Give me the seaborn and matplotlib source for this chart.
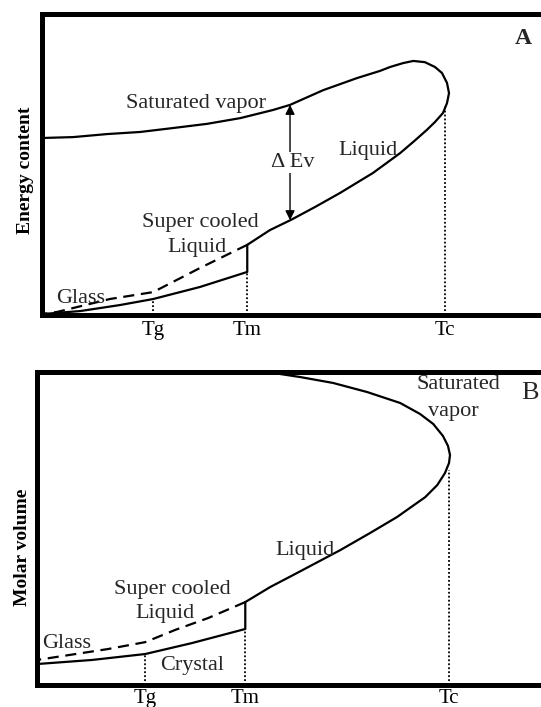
import matplotlib
matplotlib.use("Agg")
import matplotlib.pyplot as plt
import pandas as pd
import seaborn as sns

# ---------------- Panel A: energy content vs temperature (arbitrary units) ----
tick_labels = ["Tg", "Tm", "Tc"]
temps_a = [22.1, 40.8, 80.1]

# saturated vapor branch joined to the liquid branch through the critical point
coex_a_t = [0.0, 6.2, 12.9, 19.5, 26.0, 32.8, 39.4, 45.9, 49.3, 55.9, 62.6,
            67.2, 69.2, 71.8, 73.8, 76.1, 78.1, 79.5, 80.5, 80.9, 80.5, 79.7,
            78.1, 76.5, 74.0, 71.2, 65.8, 59.2, 54.3, 49.5, 45.3, 40.8]
coex_a_e = [58.8, 59.1, 60.1, 60.8, 62.1, 63.5, 65.4, 68.1, 69.8, 74.7, 78.7,
            81.1, 82.4, 83.7, 84.4, 84.0, 82.4, 80.4, 77.1, 73.7, 70.4, 67.1,
            64.1, 61.5, 57.8, 53.8, 47.2, 40.5, 35.9, 31.6, 28.2, 23.3]
crystal_a_t = [0.0, 7.6, 15.5, 22.1, 31.4, 40.8, 40.8]
crystal_a_e = [0.3, 1.3, 3.3, 5.3, 9.3, 14.3, 23.3]
glass_a_t = [40.8, 31.4, 22.1, 13.5, 3.0, 0.0]
glass_a_e = [23.3, 15.6, 7.6, 5.3, 1.0, 0.3]
drop_a_e = [5.3, 14.3, 69.4]          # where the dotted guides meet the curves
dEv_t, dEv_top, dEv_bottom = 49.3, 69.8, 31.5

# ---------------- Panel B: molar volume vs temperature ------------------------
temps_b = [21.3, 41.0, 81.1]
coex_b_t = [44.9, 46.5, 51.8, 58.3, 65.0, 71.5, 75.4, 78.0, 79.9, 80.9, 81.3,
            81.1, 80.3, 78.8, 76.4, 73.6, 70.9, 65.6, 59.7, 51.2, 45.9, 41.0]
coex_b_v = [100.0, 99.7, 98.4, 96.5, 93.6, 90.1, 86.6, 83.4, 79.6, 76.4, 73.5,
            70.9, 67.7, 63.9, 60.0, 56.8, 53.7, 48.6, 43.1, 35.8, 31.3, 26.5]
crystal_b_t = [0.0, 10.8, 21.3, 30.5, 41.0, 41.0]
crystal_b_v = [6.7, 8.0, 9.9, 13.4, 17.9, 26.5]
glass_b_t = [41.0, 33.7, 27.2, 21.3, 14.0, 0.0]
glass_b_v = [26.5, 21.4, 17.6, 13.7, 11.5, 8.0]
drop_b_v = [9.9, 17.9, 68.7]

sns.set_theme(style="white")
plt.rcParams["font.family"] = ["Liberation Serif", "DejaVu Serif"]

fig = plt.figure(figsize=(5.41, 7.07), dpi=100)
ax_a = fig.add_axes([0.0776, 0.5545, 0.93, 0.4257])
ax_b = fig.add_axes([0.0684, 0.0311, 0.939, 0.4427])

LW = 1.6
FS = 16


def curve(ax, t, y, **kw):
    df = pd.DataFrame({"t": t, "y": y})
    sns.lineplot(data=df, x="t", y="y", sort=False, estimator=None,
                 color="black", lw=LW, ax=ax, **kw)


def frame(ax, temps, drops, ylabel, lab_xy, pad):
    ax.set_xlim(0, 100)
    ax.set_ylim(0, 100)
    for t, y in zip(temps, drops):
        ax.vlines(t, 0, y, colors="black", linestyles=(0, (1, 1.2)), lw=1.3)
    ax.set_xticks(temps)
    ax.set_xticklabels(tick_labels, fontsize=15)
    ax.set_yticks([])
    ax.tick_params(axis="x", length=0, pad=pad, colors="black")
    for side in ["left", "bottom", "top"]:
        ax.spines[side].set_visible(True)
        ax.spines[side].set_linewidth(3.6)
        ax.spines[side].set_color("black")
    ax.spines["right"].set_visible(False)
    ax.set_xlabel("")
    ax.set_ylabel(ylabel, fontsize=14, fontweight="bold", color="black")
    ax.yaxis.set_label_coords(*lab_xy)


# ---- A
curve(ax_a, coex_a_t, coex_a_e)
curve(ax_a, crystal_a_t, crystal_a_e)
curve(ax_a, glass_a_t, glass_a_e, linestyle=(0, (5, 3)))
frame(ax_a, temps_a, drop_a_e, "Energy content", (-0.016, 0.48), 4)
ax_a.annotate("", xy=(dEv_t, dEv_top), xytext=(dEv_t, dEv_bottom),
              arrowprops=dict(arrowstyle="<|-|>", color="black", lw=1.0,
                              mutation_scale=14, shrinkA=0, shrinkB=0))
ax_a.text(dEv_t + 0.6, (dEv_top + dEv_bottom) / 2, "\u0394 Ev", fontsize=FS,
          ha="center", va="center",
          bbox=dict(facecolor="white", edgecolor="none", pad=1))
ax_a.text(30.6, 70.4, "Saturated vapor", fontsize=FS, ha="center", va="center")
ax_a.text(64.8, 54.8, "Liquid", fontsize=FS, ha="center", va="center")
ax_a.text(31.4, 30.6, "Super cooled", fontsize=FS, ha="center", va="center")
ax_a.text(30.8, 22.3, "Liquid", fontsize=FS, ha="center", va="center")
ax_a.text(7.6, 5.6, "Glass", fontsize=FS, ha="center", va="center")
ax_a.text(95.6, 92.0, "A", fontsize=17, fontweight="bold", ha="center", va="center")

# ---- B
curve(ax_b, coex_b_t, coex_b_v)
curve(ax_b, crystal_b_t, crystal_b_v)
curve(ax_b, glass_b_t, glass_b_v, linestyle=(0, (5, 3)))
frame(ax_b, temps_b, drop_b_v, "Molar volume", (-0.012, 0.44), 3)
ax_b.text(82.9, 96.0, "Saturated", fontsize=FS, ha="center", va="center")
ax_b.text(81.9, 87.5, "vapor", fontsize=FS, ha="center", va="center")
ax_b.text(97.1, 93.3, "B", fontsize=19, ha="center", va="center")
ax_b.text(52.8, 43.1, "Liquid", fontsize=FS, ha="center", va="center")
ax_b.text(26.6, 30.4, "Super cooled", fontsize=FS, ha="center", va="center")
ax_b.text(25.2, 23.0, "Liquid", fontsize=FS, ha="center", va="center")
ax_b.text(5.9, 13.4, "Glass", fontsize=FS, ha="center", va="center")
ax_b.text(30.5, 6.1, "Crystal", fontsize=FS, ha="center", va="center")

fig.savefig("out.png", dpi=100)
